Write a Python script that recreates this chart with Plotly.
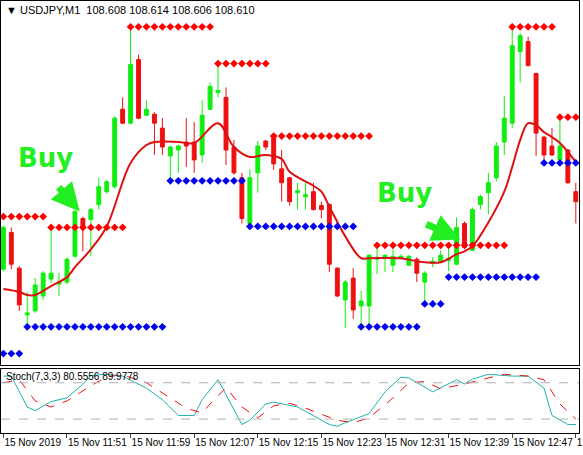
import plotly.graph_objects as go
from plotly.subplots import make_subplots

# Candles (USDJPY M1), vertical values are read off the chart as depth below the top edge
# bull candles: close above open -> smaller depth
c_open = [270, 233, 269, 316, 312, 297, 280, 285, 283, 257, 219, 220, 205, 192, 187, 109, 123, 59, 115, 114,
          128, 156, 150, 142, 142, 155, 109, 92, 97, 147, 178, 224, 173, 141, 136, 169, 178, 193, 197, 192,
          206, 205, 269, 301, 279, 307, 307, 260, 258, 266, 259, 266, 260, 283, 264, 262, 261, 265, 224, 251,
          205, 193, 178, 142, 123, 51, 41, 73, 137, 146, 160, 150, 192]
c_high = [226, 228, 267, 293, 279, 272, 228, 274, 258, 210, 217, 208, 178, 180, 116, 97, 27, 54, 100, 112,
          118, 146, 145, 118, 122, 100, 82, 65, 87, 140, 173, 169, 141, 140, 134, 150, 177, 183, 183, 183,
          202, 204, 268, 281, 269, 292, 255, 245, 255, 250, 255, 256, 258, 272, 258, 251, 247, 218, 222, 208,
          195, 173, 142, 96, 25, 32, 36, 72, 136, 128, 120, 149, 183]
c_low = [272, 270, 312, 325, 314, 301, 284, 297, 285, 258, 252, 257, 210, 194, 189, 124, 124, 119, 116, 155,
         155, 180, 173, 167, 173, 163, 110, 97, 165, 175, 224, 226, 193, 150, 170, 202, 206, 210, 210, 211,
         219, 273, 298, 329, 320, 327, 327, 275, 273, 273, 260, 267, 283, 303, 268, 263, 272, 266, 250, 252,
         210, 215, 182, 155, 128, 82, 66, 156, 162, 156, 161, 184, 224]
c_close = [228, 265, 306, 314, 286, 274, 274, 283, 260, 212, 228, 210, 187, 182, 118, 123, 64, 118, 109, 123,
           147, 147, 146, 146, 160, 115, 86, 90, 150, 173, 219, 178, 146, 147, 164, 183, 202, 191, 195, 210,
           210, 265, 297, 283, 311, 302, 256, 258, 256, 257, 257, 257, 274, 274, 262, 256, 259, 228, 248, 210,
           197, 183, 146, 118, 45, 35, 65, 133, 155, 155, 146, 183, 202]
bars = list(range(len(c_open)))

# moving average (bar index, value)
ma_bar = [0, 2, 3, 4, 6, 8, 9, 11, 13, 16, 18, 19, 22, 24, 27, 29, 31, 33, 35, 36, 39, 40, 41, 43, 45,
          46, 50, 52, 53, 55, 57, 58, 59, 61, 63, 64, 65, 66, 67, 68, 69, 70, 72]
ma_val = [290, 293, 296, 296, 287, 278, 268, 250, 227, 163, 145, 142, 142, 143, 123, 147, 157, 155, 159, 172,
          186, 192, 207, 237, 259, 259, 259, 262, 263, 263, 255, 252, 247, 223, 192, 167, 140, 123, 125, 132,
          137, 143, 162]

# support / resistance dot levels: (first bar, last bar, level)
red_levels = [(0, 5, 217), (6, 15, 228), (16, 26, 26), (27, 33, 63), (34, 46, 136),
              (47, 63, 246), (64, 69, 26), (70, 72, 117)]
blue_levels = [(0, 2, 355), (3, 20, 328), (21, 30, 181), (31, 44, 227), (45, 52, 328),
               (53, 55, 305), (56, 67, 278), (68, 72, 163)]

# Stochastic (7,3,3)
k_bar = [0, 1, 3, 4, 6, 8, 10, 11, 13, 15, 18, 20, 22, 24, 25, 27, 30, 31, 33, 34, 37, 41, 42, 43, 46,
         48, 50, 51, 54, 57, 58, 59, 61, 64, 66, 68, 69, 71, 72]
k_val = [91, 91, 40, 34, 49, 55, 78, 92, 94, 91, 71, 52, 26, 26, 52, 85, 11, 18, 45, 48, 40, 11, 8, 14, 29,
         65, 89, 88, 65, 85, 78, 86, 94, 91, 91, 71, 26, 11, 11]
d_bar = [0, 2, 4, 6, 8, 11, 13, 15, 18, 21, 23, 25, 26, 28, 30, 32, 34, 36, 38, 42, 44, 46, 49, 51, 53,
         55, 58, 61, 63, 66, 68, 70, 72]
d_val = [80, 85, 50, 40, 50, 75, 90, 93, 80, 55, 38, 30, 45, 72, 40, 22, 42, 46, 38, 18, 14, 22, 55, 80, 82,
         70, 78, 88, 94, 91, 85, 45, 20]

tick_bars = [0, 8, 16, 24, 32, 40, 48, 56, 64, 72]
tick_text = ["15 Nov 2019", "15 Nov 11:51", "15 Nov 11:59", "15 Nov 12:07", "15 Nov 12:15",
             "15 Nov 12:23", "15 Nov 12:31", "15 Nov 12:39", "15 Nov 12:47", "1"]

GREEN = '#11EE11'
RED = '#EE1111'
FONT = 'Liberation Sans'

fig = make_subplots(rows=2, cols=1, shared_xaxes=True, vertical_spacing=0.01,
                    row_heights=[0.85, 0.15])

# depth axis is reversed, so "decreasing" depth means a rising (bull) candle
fig.add_trace(go.Candlestick(
    x=bars, open=c_open, high=c_high, low=c_low, close=c_close,
    increasing_line_color=RED, increasing_fillcolor=RED,
    decreasing_line_color=GREEN, decreasing_fillcolor=GREEN,
    whiskerwidth=0, line_width=1, showlegend=False, hoverinfo='skip'), row=1, col=1)

fig.add_trace(go.Scatter(x=ma_bar, y=ma_val, mode='lines', line=dict(color='#DD1111', width=2),
                         line_shape='spline', showlegend=False), row=1, col=1)

for levels, col in ((red_levels, '#FF0000'), (blue_levels, '#0000EE')):
    xs, ys = [], []
    for a, b, lvl in levels:
        for i in range(a, b + 1):
            xs.append(i)
            ys.append(lvl)
    fig.add_trace(go.Scatter(x=xs, y=ys, mode='markers',
                             marker=dict(symbol='diamond', size=6, color=col),
                             showlegend=False), row=1, col=1)

fig.add_trace(go.Scatter(x=k_bar, y=k_val, mode='lines', line=dict(color='#20B2AA', width=1),
                         showlegend=False), row=2, col=1)
fig.add_trace(go.Scatter(x=d_bar, y=d_val, mode='lines', line=dict(color='#EE1111', width=1, dash='dash'),
                         showlegend=False), row=2, col=1)
for lvl in (20, 80):
    fig.add_hline(y=lvl, line_dash='dash', line_color='#B0B0B0', line_width=1, row=2, col=1)

# Buy signals
for bx, by, ax0, ay0, ax1, ay1 in ((5.3, 158, 6.8, 186, 9.6, 212), (50.5, 193, 53, 224, 57.5, 240)):
    fig.add_annotation(x=bx, y=by, xref='x', yref='y', text='<b>Buy</b>', showarrow=False,
                       font=dict(family='DejaVu Sans', size=26, color='#22EE22'))
    fig.add_annotation(x=ax1, y=ay1, ax=ax0, ay=ay0, xref='x', yref='y', axref='x', ayref='y',
                       text='', showarrow=True, arrowhead=2, arrowsize=0.8, arrowwidth=7,
                       arrowcolor='#22EE22')

fig.add_annotation(x=0.005, y=0.998, xref='paper', yref='paper', xanchor='left', yanchor='top',
                   text='▼ USDJPY,M1  108.608 108.614 108.606 108.610', showarrow=False,
                   font=dict(family=FONT, size=11, color='black'))
fig.add_annotation(x=0.005, y=0.148, xref='paper', yref='paper', xanchor='left', yanchor='top',
                   text='Stoch(7,3,3) 80.5556 89.9778', showarrow=False,
                   font=dict(family=FONT, size=10, color='black'))

fig.update_layout(
    width=583, height=455, margin=dict(l=1, r=4, t=1, b=22),
    plot_bgcolor='white', paper_bgcolor='white',
    xaxis_rangeslider_visible=False, hovermode=False,
)
fig.update_xaxes(range=[-0.3, 72.4], showgrid=False, zeroline=False, showline=True, linecolor='black',
                 linewidth=1, mirror=True, automargin=False)
fig.update_xaxes(tickvals=tick_bars, ticktext=tick_text, ticks='outside', ticklen=4, tickangle=0,
                 ticklabelposition='outside right', tickfont=dict(family=FONT, size=10, color='black'),
                 row=2, col=1)
fig.update_yaxes(showgrid=False, zeroline=False, showticklabels=False, showline=True, linecolor='black',
                 linewidth=1, mirror=True, automargin=False)
fig.update_yaxes(range=[366, 0], row=1, col=1)
fig.update_yaxes(range=[-3, 103], row=2, col=1)

fig.write_html("out.html", config={'displayModeBar': False},
               post_script="document.body.style.margin='0';")
